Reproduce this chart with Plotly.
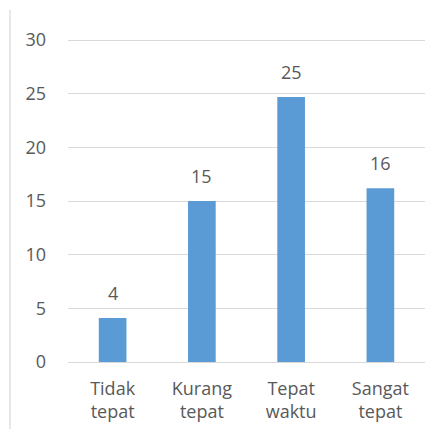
import plotly.graph_objects as go

categories = ["Tidak<br>tepat", "Kurang<br>tepat", "Tepat<br>waktu", "Sangat<br>tepat"]
values = [4.1, 15.0, 24.7, 16.2]
value_labels = ["4", "15", "25", "16"]
y_ticks = [0, 5, 10, 15, 20, 25, 30]

FONT = "Open Sans"
TXT = "#595959"
GRID = "#d9d9d9"

fig = go.Figure()
fig.add_trace(go.Bar(
    x=categories, y=values,
    marker=dict(color="#5B9BD5", line=dict(width=0)),
    width=0.31,
    hoverinfo="skip",
))

for c, v, t in zip(categories, values, value_labels):
    fig.add_annotation(x=c, y=v, text=t, showarrow=False,
                       yanchor="middle", yshift=25,
                       font=dict(family=FONT, size=18, color=TXT))

fig.add_shape(type="line", xref="paper", yref="paper",
              x0=-0.1625, x1=-0.1625, y0=-0.25, y1=1.087,
              line=dict(color="#cfcfcf", width=1))

fig.update_layout(
    width=439, height=421,
    margin=dict(l=60, r=22, t=30, b=67, autoexpand=False),
    plot_bgcolor="white", paper_bgcolor="white",
    showlegend=False,
    font=dict(family=FONT, size=18, color=TXT),
    bargap=0.69,
)
fig.update_xaxes(showgrid=False, showline=False, ticks="",
                 automargin=False,
                 ticklabelstandoff=14,
                 tickfont=dict(family=FONT, size=18, color=TXT))
fig.update_yaxes(range=[0, 30.2], tickvals=y_ticks, showgrid=True,
                 automargin=False,
                 gridcolor=GRID, gridwidth=1, zeroline=True,
                 zerolinecolor=GRID, zerolinewidth=1, showline=False,
                 ticks="", ticklabelstandoff=21,
                 tickfont=dict(family=FONT, size=18, color=TXT))

fig.write_html("out.html")
